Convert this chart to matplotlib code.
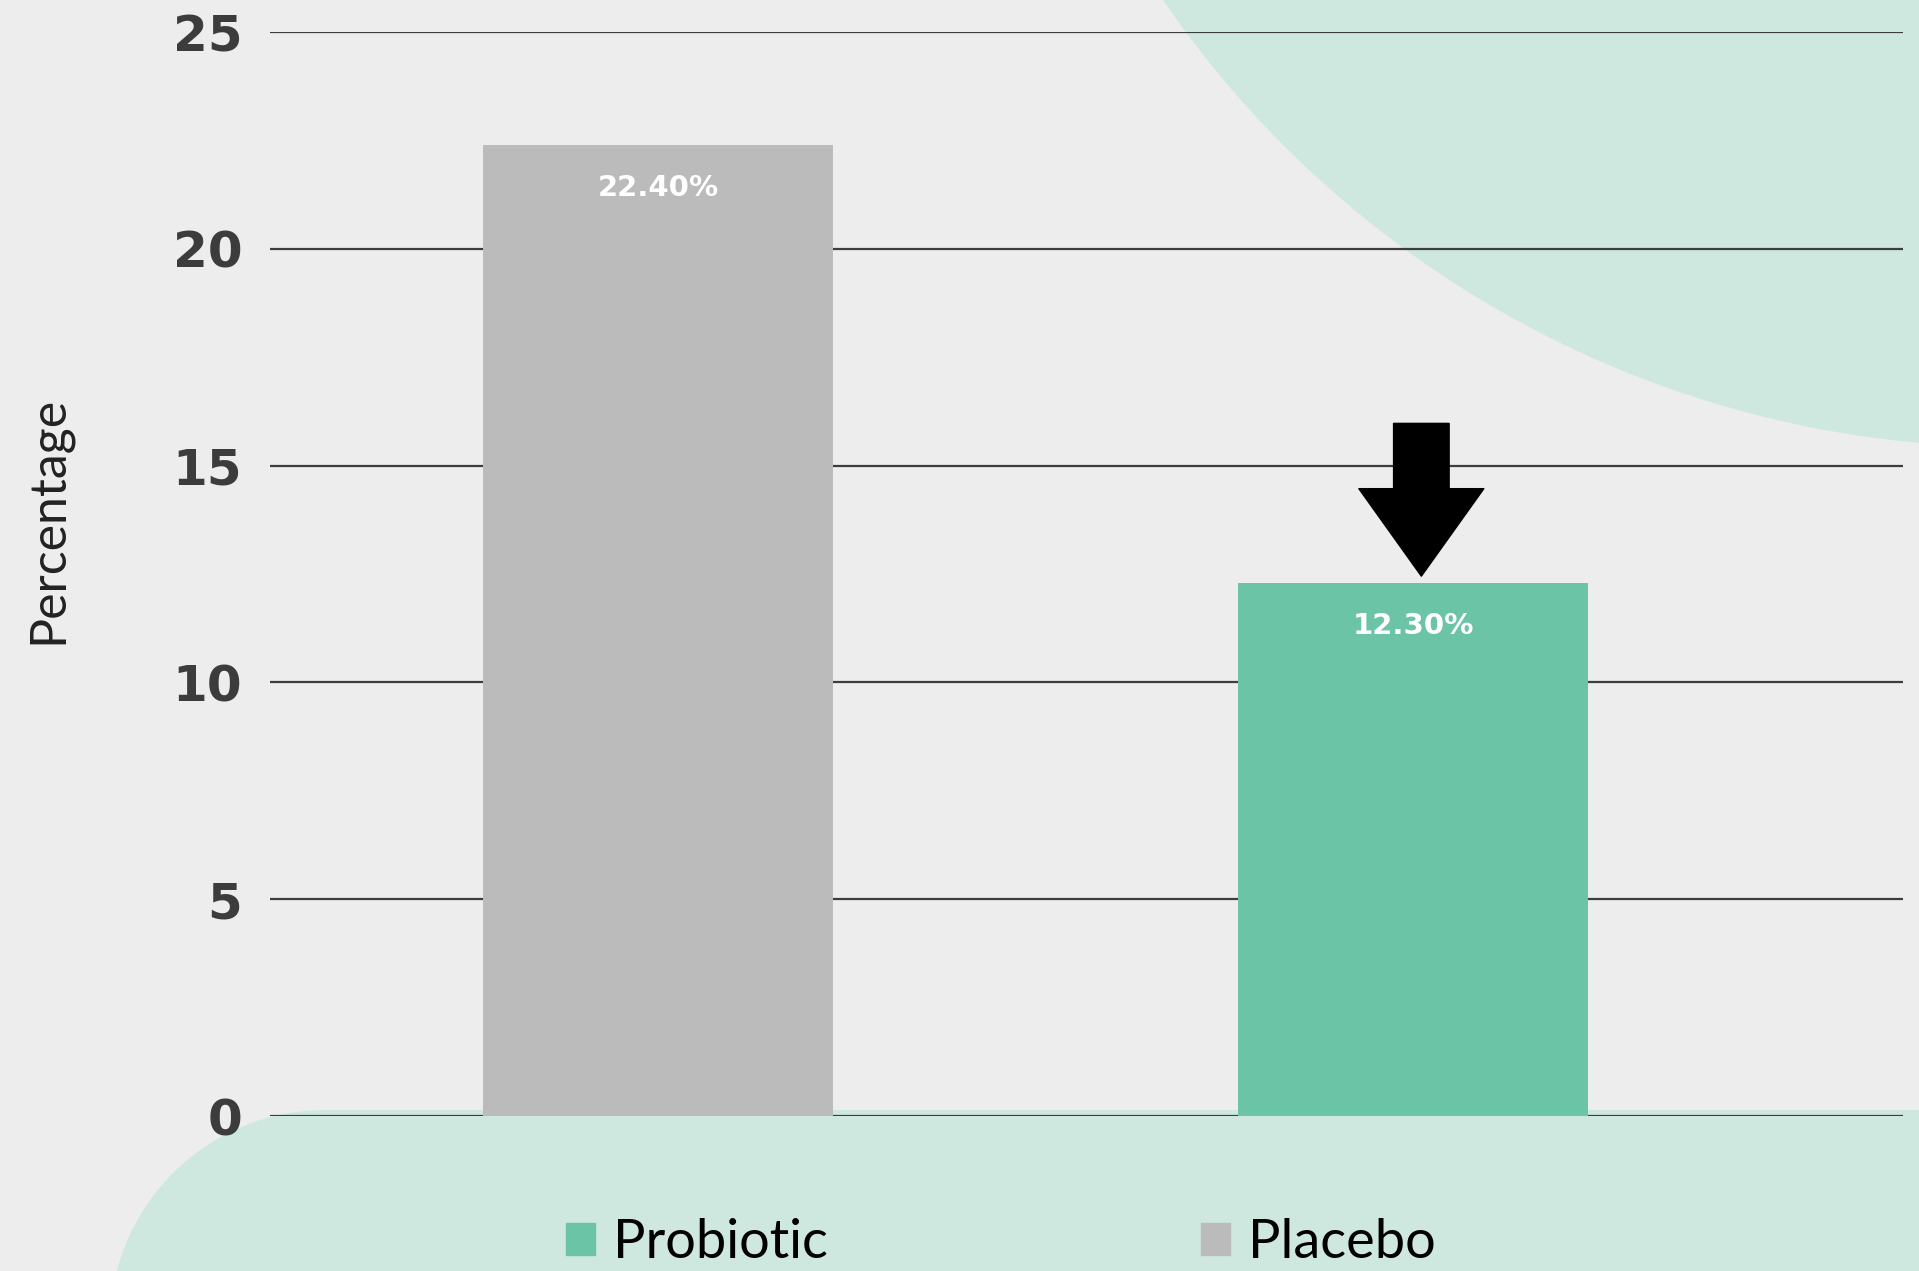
import matplotlib.pyplot as plt
from matplotlib.patches import Ellipse, Rectangle, Patch
from matplotlib.transforms import offset_copy

groups = ['Placebo', 'Probiotic']
values = [22.4, 12.3]
labels = ['22.40%', '12.30%']
yticks = [0, 5, 10, 15, 20, 25]

bg = '#ededed'
mint = '#cfe8df'
bar_colors = {'Placebo': '#bbbbbb', 'Probiotic': '#6cc4a6'}

W, H = 1919, 1271
fig = plt.figure(figsize=(W / 100, H / 100), dpi=100, facecolor=bg)

#BACKGROUND SHAPES
# big circle top right
fig.add_artist(Ellipse((2011 / W, 1 - (-581) / H), 2 * 1028 / W, 2 * 1028 / H,
                       transform=fig.transFigure, color=mint, lw=0, zorder=-1))
# rounded band along the bottom
fig.add_artist(Ellipse((325 / W, 1 - 1325 / H), 2 * 215 / W, 2 * 215 / H,
                       transform=fig.transFigure, color=mint, lw=0, zorder=-1))
fig.add_artist(Rectangle((325 / W, 0), 1 - 325 / W, (H - 1110) / H,
                         transform=fig.transFigure, color=mint, lw=0, zorder=-1))

#AXES
ax = fig.add_axes([270 / W, 1 - 1116 / H, (1903 - 270) / W, (1116 - 32) / H])
ax.set_facecolor('none')
for s in ax.spines.values():
    s.set_visible(False)

x = list(range(len(groups)))
ax.set_xlim(-0.514, 1.649)
ax.set_ylim(0, 25)
ax.set_yticks(yticks)
ax.set_yticklabels([str(t) for t in yticks], fontsize=36, fontweight='bold',
                   color='#3c3c3c', family='DejaVu Sans')
ax.tick_params(axis='y', length=0, pad=20)
ax.set_xticks([])
ax.yaxis.grid(True, color='#3d3d3d', lw=1.6)
ax.set_axisbelow(True)

#BARS
bars = ax.bar(x, values, width=0.464, color=[bar_colors[g] for g in groups], zorder=2)
for xi, v, lab in zip(x, values, labels):
    ax.annotate(lab, xy=(xi, v), xytext=(0, -31), textcoords='offset points',
                ha='center', va='center', color='white', fontsize=21,
                fontweight='bold', family='DejaVu Sans', zorder=3)

# arrow pointing down at the probiotic bar
arrow_xy = offset_copy(ax.transData, fig=fig, x=6, y=0, units='points')
ax.annotate('', xy=(1, values[1] + 0.15), xycoords=arrow_xy,
            xytext=(0, 110), textcoords='offset points',
            arrowprops=dict(arrowstyle='simple,head_length=0.63,head_width=0.9,tail_width=0.4',
                            mutation_scale=100, color='black', shrinkA=0, shrinkB=0),
            zorder=4)

ax.set_ylabel('Percentage', fontsize=36, family='Lato', fontweight='normal', color='#222222')
ax.yaxis.set_label_coords(-0.1219, 0.55)

#LEGEND
handles = [Patch(color=bar_colors['Probiotic']), Patch(color=bar_colors['Placebo'])]
fig.legend(handles, ['Probiotic', 'Placebo'], loc='lower left',
           bbox_to_anchor=(566 / W, 0.003), ncol=2, frameon=False,
           prop={'family': 'Lato', 'size': 39},
           handlelength=0.54, handleheight=0.54, handletextpad=0.32,
           columnspacing=6.9, borderpad=0, borderaxespad=0)

fig.savefig('out.png', dpi=100, facecolor=bg)
